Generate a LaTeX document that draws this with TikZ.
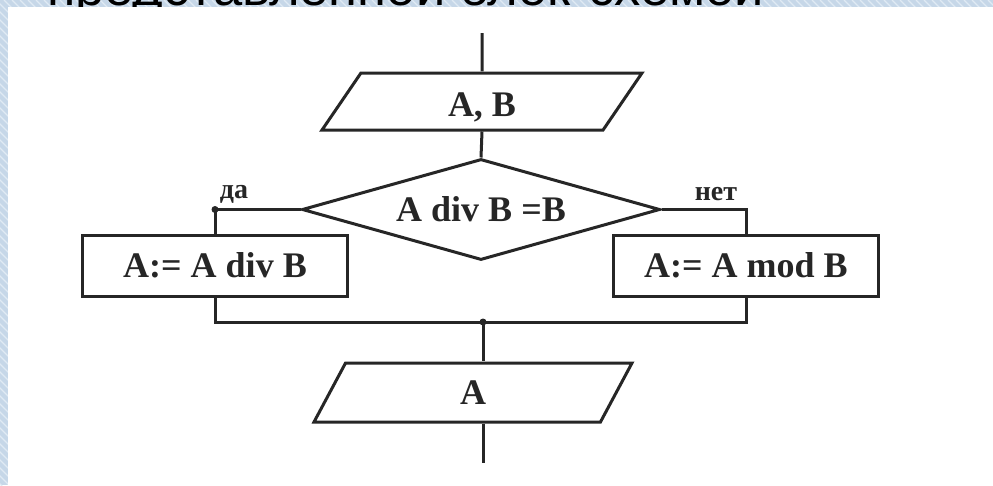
\documentclass[tikz,border=0pt]{standalone}
\usepackage{fontspec}
\setmainfont{Liberation Serif}
\newfontfamily\topfont{Liberation Sans}
\usepackage{tikz}
\usetikzlibrary{shapes.geometric}
\definecolor{hatchblue}{RGB}{198,215,232}
\definecolor{hatchline}{RGB}{224,234,244}
\definecolor{ink}{RGB}{38,38,38}
\tikzset{>=latex,
  blockline/.style={draw=ink, line width=3pt, text=ink, font=\fontsize{36}{40}\selectfont\bfseries},
  io/.style={blockline, trapezium, trapezium left angle=37, trapezium right angle=143, trapezium stretches body, inner sep=0pt, minimum width=320pt, minimum height=57pt},
  cond/.style={blockline, diamond, aspect=3.5, inner sep=0pt, minimum width=358pt, minimum height=101pt},
  proc/.style={blockline, rectangle, inner sep=0pt, minimum width=265pt, minimum height=61pt},
  flow/.style={draw=ink, line width=3pt},
  tag/.style={text=ink, inner sep=0pt, font=\fontsize{28}{30}\selectfont\bfseries}
}

\begin{document}
\begin{tikzpicture}[x=1pt, y=-1pt]
\clip (0,0) rectangle (993,485);
% background strip and clipped caption
\fill[hatchblue] (0,0) rectangle (993,485);
\foreach \k in {-500,-492,...,1000}
  \draw[hatchline, line width=1.2pt] (\k,0) -- ++(500,500);
\node[anchor=base west, inner sep=0pt, font=\topfont\fontsize{52.5}{56}\selectfont] (caption) at (47,5) {представленной блок-схемой};
\fill[white] (8,7) rectangle (1000,495);

% blocks
\coordinate (top) at (482,33);
\node[io] (in) at (482,101.5) {\raisebox{-6pt}[\height][\depth]{A, B}};
\node[cond] (cond) at (481,209.5) {A div B =B};
\node[proc] (yes) at (215,265.5) {A:= A div B};
\node[proc] (no) at (746,265.5) {A:= A mod B};
\coordinate (join) at (483,322);
\node[io, minimum width=318pt, minimum height=59pt] (out) at (473,392.5) {A};
\coordinate (end) at (483,463);

% connectors
\draw[flow] (top) -- (in.north);
\draw[flow] (in.south) -- (cond.north);
\draw[flow] (cond.west) -| (yes.north);
\draw[flow] (cond.east) -| (no.north);
\draw[flow] (yes.south) |- (join);
\draw[flow] (no.south) |- (join);
\draw[flow] (join) -- (join |- out.north);
\draw[flow] (out.south -| end) -- (end);
\fill[ink] (cond.west -| yes.north) circle (3.5pt);
\fill[ink] (join) circle (3.5pt);

\node[tag] (da) at (234,194) {да};
\node[tag] (net) at (716,194) {нет};
\end{tikzpicture}
\end{document}
